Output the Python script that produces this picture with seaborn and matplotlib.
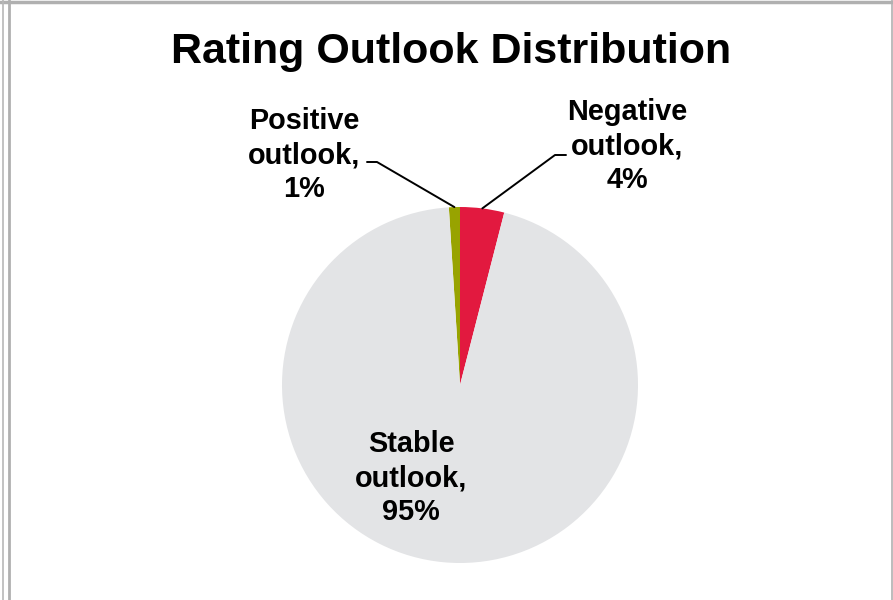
import numpy as np
import matplotlib.pyplot as plt
import seaborn as sns
from matplotlib.lines import Line2D

# data
categories = ['Positive outlook', 'Negative outlook', 'Stable outlook']
shares = [1, 4, 95]
colors = ['#98A300', '#E2193F', '#E3E4E6']
label_texts = ['Positive\noutlook,\n1%', 'Negative\noutlook,\n4%', 'Stable\noutlook,\n95%']

sns.set_theme(style='white')
plt.rcParams['font.family'] = ['Liberation Sans', 'DejaVu Sans']
plt.rcParams['text.color'] = 'black'

fig = plt.figure(figsize=(8.93, 6), dpi=100)
ax = fig.add_axes([0, 0, 1, 1])

# pie in pixel-like coordinates
cx, cy, r = 460, 215, 178
wedges, _ = ax.pie(shares, colors=colors, startangle=90 + 360 * shares[0] / 100,
                   counterclock=False, center=(cx, cy), radius=r,
                   wedgeprops=dict(linewidth=0))
ax.set_xlim(0, 893)
ax.set_ylim(0, 600)
ax.set_aspect('equal')
ax.axis('off')

def edge_point(w):
    ang = np.deg2rad((w.theta1 + w.theta2) / 2)
    return cx + r * np.cos(ang), cy + r * np.sin(ang)

# leader lines for small slices
px, py = edge_point(wedges[0])
ax.plot([px, 377, 367], [py, 438, 438], color='black', lw=1.4)
nx, ny = edge_point(wedges[1])
ax.plot([nx, 555, 566], [ny, 445, 445], color='black', lw=1.4)

# va='baseline' sits on the last line here
fs = 20.8
ls = 1.27
ax.text(304, 403, label_texts[0], ha='center', va='baseline', fontsize=fs,
        fontweight='bold', linespacing=ls, color='black')
ax.text(627, 412, label_texts[1], ha='center', va='baseline', fontsize=fs,
        fontweight='bold', linespacing=ls, color='black')
ax.text(411, 80, label_texts[2], ha='center', va='baseline', fontsize=fs,
        fontweight='bold', linespacing=ls, color='black')

ax.text(451, 537, 'Rating Outlook Distribution', ha='center', va='baseline',
        fontsize=31, fontweight='bold', color='black')

# frame lines
for l in [Line2D([0, 1], [598.5 / 600] * 2, color='#b0b0b0', lw=2.5),
          Line2D([3 / 893] * 2, [0, 1], color='#b8b8b8', lw=1.2),
          Line2D([8.5 / 893] * 2, [0, 1], color='#b0b0b0', lw=2.0),
          Line2D([892 / 893] * 2, [0, 1], color='#b0b0b0', lw=1.2)]:
    fig.add_artist(l)

fig.savefig('out.png', dpi=100)
